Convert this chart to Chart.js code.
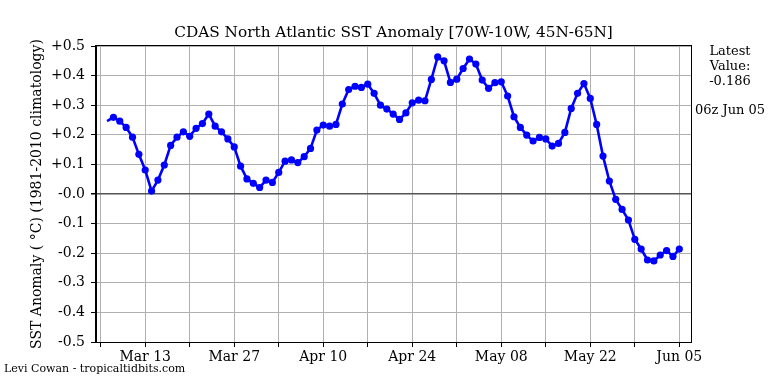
<!DOCTYPE html>
<html>
<head>
<meta charset="utf-8">
<script src="https://cdn.jsdelivr.net/npm/chart.js@4.4.1/dist/chart.umd.min.js"></script>
<style>
  html, body { margin: 0; padding: 0; background: #fff; }
  canvas { display: block; }
</style>
</head>
<body>
<canvas id="sst-chart" width="768" height="384"></canvas>
<script>
const chartTitle = 'CDAS North Atlantic SST Anomaly [70W-10W, 45N-65N]';
const yTitle = 'SST Anomaly ( \u00B0C) (1981-2010 climatology)';
const credit = 'Levi Cowan - tropicaltidbits.com';
const latestTime = '06z Jun 05';

// daily anomaly, Mar 07 .. Jun 05 (day 1 = Mar 07, counted from Mar 06)
const firstDay = 1;
const anomaly = [
    0.246, 0.259, 0.246, 0.225, 0.192, 0.134, 0.081, 0.010, 0.047, 0.098,
    0.164, 0.192, 0.210, 0.195, 0.222, 0.238, 0.270, 0.229, 0.210, 0.186,
    0.159, 0.094, 0.051, 0.036, 0.022,
    0.047, 0.039, 0.073, 0.111, 0.115, 0.106, 0.126, 0.154, 0.216, 0.233,
    0.229, 0.235, 0.304, 0.353, 0.364, 0.360, 0.371, 0.340, 0.300, 0.287,
    0.270, 0.252, 0.274, 0.308, 0.317, 0.315, 0.387, 0.463, 0.450, 0.377,
    0.388, 0.424, 0.456, 0.439, 0.385, 0.357, 0.376, 0.379, 0.331, 0.261,
    0.225, 0.199, 0.179, 0.191, 0.186, 0.162, 0.171, 0.208, 0.289, 0.340,
    0.373, 0.323, 0.235, 0.128, 0.044, -0.018, -0.052, -0.088, -0.153, -0.186,
    -0.223,
    -0.226, -0.206, -0.191, -0.211, -0.186
];

// x ticks, weekly from Mar 06
const xTicks = [0, 7, 14, 21, 28, 35, 42, 49, 56, 63, 70, 77, 84, 91];
const xTickLabels = ['', 'Mar 13', '', 'Mar 27', '', 'Apr 10', '', 'Apr 24', '', 'May 08', '', 'May 22', '', 'Jun 05'];

const yTicks = [-0.5, -0.4, -0.3, -0.2, -0.1, 0, 0.1, 0.2, 0.3, 0.4, 0.5];
const yTickLabels = ['-0.5', '-0.4', '-0.3', '-0.2', '-0.1', '-0.0', '+0.1', '+0.2', '+0.3', '+0.4', '+0.5'];

const serif = '"DejaVu Serif", serif';

const extras = {
    id: 'extras',
    afterDraw(chart) {
        const c = chart.ctx;
        const area = chart.chartArea;
        c.save();
        c.strokeStyle = '#000';
        c.lineWidth = 1;
        c.strokeRect(area.left - 0.5, area.top - 0.5, area.right - area.left + 1, area.bottom - area.top + 1);

        c.fillStyle = '#000';
        c.textAlign = 'center';
        c.textBaseline = 'middle';
        c.font = '15.3px ' + serif;
        c.fillText(chartTitle, (area.left + area.right) / 2, 33);

        c.font = '13px ' + serif;
        c.fillText('Latest', 730, 52);
        c.fillText('Value:', 730, 67);
        c.fillText(anomaly[anomaly.length - 1].toFixed(3), 730, 82);
        c.fillText(latestTime, 730, 111);

        c.textAlign = 'left';
        c.font = '11px ' + serif;
        c.fillText(credit, 4, 369);
        c.restore();
    }
};

const ctx = document.getElementById('sst-chart').getContext('2d');
new Chart(ctx, {
    type: 'line',
    data: {
        datasets: [{
            data: anomaly.map((v, i) => ({ x: firstDay + i, y: v })),
            borderColor: '#0000ff',
            backgroundColor: '#0000ff',
            borderWidth: 2.6,
            pointRadius: anomaly.map((v, i) => i === 0 ? 0 : 3.6),
            pointBorderWidth: 0,
            pointHoverRadius: 0,
            tension: 0
        }]
    },
    options: {
        responsive: false,
        animation: false,
        events: [],
        layout: { padding: { left: 0, right: 77, top: 46, bottom: 0 } },
        plugins: {
            legend: { display: false },
            tooltip: { enabled: false }
        },
        scales: {
            x: {
                type: 'linear',
                min: -0.74,
                max: 92.84,
                afterBuildTicks: scale => { scale.ticks = xTicks.map(v => ({ value: v })); },
                afterFit: scale => { scale.height = 42; },
                ticks: {
                    autoSkip: false,
                    maxRotation: 0,
                    padding: 2,
                    color: '#000',
                    font: { family: serif, size: 14 },
                    callback: (v, i) => xTickLabels[i]
                },
                grid: { color: '#b0b0b0', lineWidth: 1, tickColor: '#000', tickLength: 5 },
                border: { color: '#000', width: 1 }
            },
            y: {
                min: -0.5,
                max: 0.5,
                afterBuildTicks: scale => { scale.ticks = yTicks.map(v => ({ value: v })); },
                afterFit: scale => { scale.width = 96; },
                ticks: {
                    padding: 6,
                    color: '#000',
                    font: { family: serif, size: 14 },
                    callback: (v, i) => yTickLabels[i]
                },
                grid: {
                    color: c => c.tick && c.tick.value === 0 ? '#555' : '#b0b0b0',
                    lineWidth: c => c.tick && c.tick.value === 0 ? 1.5 : 1,
                    tickColor: '#000',
                    tickLength: 5
                },
                border: { color: '#000', width: 1 },
                title: {
                    display: true,
                    text: yTitle,
                    color: '#000',
                    font: { family: serif, size: 14 },
                    padding: { top: 29, bottom: 0 }
                }
            }
        }
    },
    plugins: [extras]
});
</script>
</body>
</html>
